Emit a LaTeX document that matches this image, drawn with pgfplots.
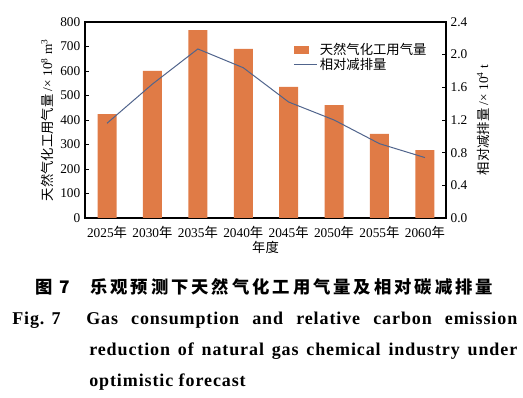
\documentclass[border=0pt]{standalone}
\usepackage{fontspec}
\setmainfont{Liberation Serif}
\newfontfamily\cjk{Noto Sans CJK SC}
\newfontfamily\cjkcap[LetterSpace=17]{Noto Sans CJK SC}
\newfontfamily\capen[LetterSpace=5]{Liberation Serif}
\usepackage{pgfplots}
\pgfplotsset{compat=1.18}
\definecolor{barcol}{HTML}{E07B46}
\definecolor{linecol}{HTML}{50648C}
\begin{document}
\begin{tikzpicture}
\path[use as bounding box] (0,0) rectangle (392.25pt,298.5pt);
\pgfplotsset{
  common/.style={
    at={(63.75pt,135pt)}, anchor=south west, scale only axis,
    width=270.75pt, height=147pt,
    xmin=-0.485, xmax=7.465,
    tick align=inside, major tick length=3pt,
    tick label style={font=\fontsize{10}{12}\selectfont},
    label style={font=\fontsize{10}{12}\selectfont},
    /pgf/number format/assume math mode=true,
    axis line style={line width=0.8pt},
    every tick/.style={line width=0.6pt, black},
  }
}
\begin{axis}[common,
  ymin=0, ymax=800,
  xtick={0,1,2,3,4,5,6,7},
  xticklabels={2025{\cjk 年},2030{\cjk 年},2035{\cjk 年},2040{\cjk 年},2045{\cjk 年},2050{\cjk 年},2055{\cjk 年},2060{\cjk 年}},
  x tick style={draw=none},
  ytick={0,100,200,300,400,500,600,700,800},
  ytick pos=left,
  ylabel={{\cjk 天然气化工用气量} /× 10\textsuperscript{8} m\textsuperscript{3}},
  ylabel style={at={(axis description cs:-0.105,0.5)}, anchor=center},
  xlabel={\cjk 年度},
  xlabel style={at={(axis description cs:0.5,-0.148)}, anchor=center},
  ybar, bar width=14.25pt,
]
\addplot[fill=barcol, draw=none] coordinates {(0,424) (1,600) (2,767) (3,690) (4,535) (5,461) (6,343) (7,277)};
\end{axis}
\begin{axis}[common,
  ymin=0, ymax=2.4,
  axis x line=none, axis y line*=right,
  ytick={0,0.4,0.8,1.2,1.6,2.0,2.4},
  yticklabel style={/pgf/number format/.cd, fixed, fixed zerofill, precision=1},
  ylabel={{\cjk 相对减排量} /× 10\textsuperscript{4} t},
  ylabel style={at={(axis description cs:1.1025,0.5)}, anchor=center, rotate=0},
  legend style={at={(0.965,0.92)}, anchor=north east, draw=none, fill=none,
    font=\fontsize{10}{12}\selectfont, row sep=-3pt, cells={anchor=west}},
]
\addlegendimage{legend image code/.code={\fill[barcol] (0pt,-2.6pt) rectangle (10.5pt,2.6pt);}}
\addlegendentry{\cjk 天然气化工用气量}
\addplot[linecol, line width=0.75pt, mark=none] coordinates {(0,1.16) (1,1.64) (2,2.07) (3,1.84) (4,1.42) (5,1.20) (6,0.91) (7,0.74)};
\addlegendentry{\cjk 相对减排量}
\end{axis}
% caption
\node[anchor=west, inner sep=0pt] at (26.25pt,83.25pt) {\fontsize{13}{15}\selectfont\cjkcap\bfseries 图\hspace{5pt}7};
\node[anchor=west, inner sep=0pt] at (67.5pt,83.25pt) {\fontsize{13}{15}\selectfont\cjkcap\bfseries 乐观预测下天然气化工用气量及相对碳减排量};
\node[anchor=base west, inner sep=0pt] at (9pt,54.75pt) {\fontsize{13.5}{16}\selectfont\capen\bfseries Fig. 7};
\node[anchor=base west, inner sep=0pt] at (64.5pt,54.75pt) {\fontsize{13.5}{16}\selectfont\capen\bfseries\makebox[323.25pt][s]{Gas consumption and relative carbon emission}};
\node[anchor=base west, inner sep=0pt] at (66.75pt,31.5pt) {\fontsize{13.5}{16}\selectfont\capen\bfseries\makebox[321pt][s]{reduction of natural gas chemical industry under}};
\node[anchor=base west, inner sep=0pt] at (66.75pt,8.25pt) {\fontsize{13.5}{16}\selectfont\capen\bfseries optimistic forecast};
\end{tikzpicture}
\end{document}
